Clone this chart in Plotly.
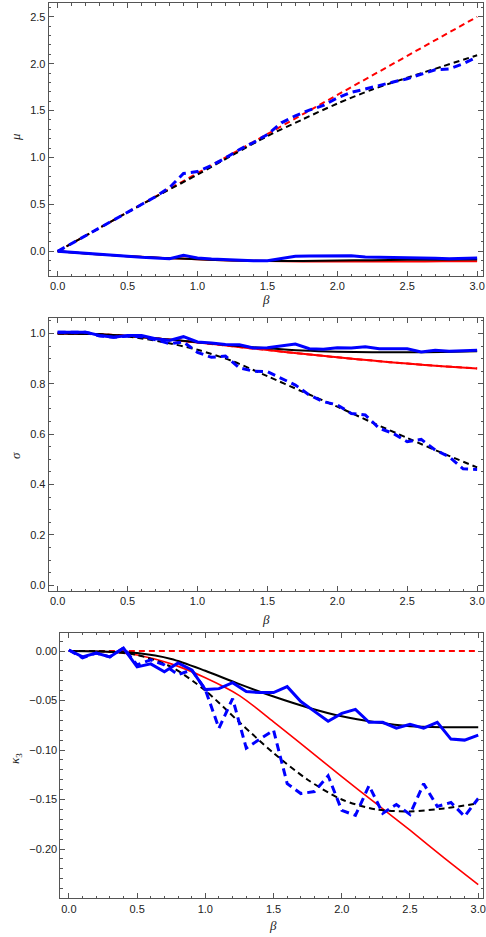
import plotly.graph_objects as go

# ---- smooth (analytic) curves, sampled every 0.25 in beta ----
beta_grid = [0.0, 0.25, 0.5, 0.75, 1.0, 1.25, 1.5, 1.75, 2.0, 2.25, 2.5, 2.75, 3.0]
beta_line = [0.0, 3.0]

# mean
mu_red_dashed = [0.0, 2.5]
mu_black_dashed = [0.0, 0.208, 0.415, 0.62, 0.818, 1.025, 1.228, 1.405, 1.575, 1.725, 1.85, 1.97, 2.09]
mu_red_solid = [0.0, -0.028, -0.052, -0.07, -0.085, -0.097, -0.104, -0.108, -0.109, -0.109, -0.108, -0.107, -0.106]
mu_black_solid = [0.0, -0.028, -0.052, -0.07, -0.085, -0.097, -0.103, -0.102, -0.098, -0.094, -0.091, -0.089, -0.087]

# width
sig_red = [1.0, 0.998, 0.99, 0.978, 0.964, 0.949, 0.934, 0.919, 0.905, 0.892, 0.88, 0.87, 0.861]
sig_black_solid = [1.0, 0.998, 0.99, 0.978, 0.965, 0.952, 0.941, 0.932, 0.927, 0.925, 0.925, 0.926, 0.929]
sig_black_dashed = [1.0, 0.998, 0.988, 0.966, 0.935, 0.89, 0.83, 0.769, 0.709, 0.646, 0.585, 0.525, 0.468]

# third cumulant
kappa_red_dashed = [0.0, 0.0]
kappa_red_solid = [0.0, -0.0005, -0.004, -0.013, -0.027, -0.045, -0.0715, -0.099, -0.127, -0.154, -0.181, -0.209, -0.236]
kappa_black_solid = [0.0, -0.0005, -0.002, -0.008, -0.02, -0.0335, -0.046, -0.057, -0.066, -0.072, -0.076, -0.077, -0.077]
kappa_black_dashed = [0.0, -0.0005, -0.004, -0.016, -0.04, -0.072, -0.103, -0.13, -0.15, -0.16, -0.162, -0.159, -0.154]

# ---- sampled (simulation) points, every 0.1 in beta ----
beta_mc = [0.0, 0.1, 0.2, 0.3, 0.4, 0.5, 0.6, 0.7, 0.8, 0.9, 1.0,
           1.1, 1.2, 1.3, 1.4, 1.5, 1.6, 1.7, 1.8, 1.9, 2.0,
           2.1, 2.2, 2.3, 2.4, 2.5, 2.6, 2.7, 2.8, 2.9, 3.0]

mu_blue_solid = [0.0, -0.011, -0.018, -0.036, -0.046, -0.057, -0.064, -0.071, -0.078, -0.043, -0.071,
                 -0.082, -0.089, -0.096, -0.1, -0.1, -0.078, -0.053, -0.05, -0.05, -0.053,
                 -0.046, -0.06, -0.064, -0.071, -0.075, -0.075, -0.075, -0.078, -0.075, -0.071]
mu_blue_dashed = [0.0, 0.083, 0.167, 0.25, 0.333, 0.415, 0.5, 0.583, 0.68, 0.83, 0.85,
                  0.915, 0.995, 1.085, 1.16, 1.245, 1.37, 1.445, 1.505, 1.555, 1.635,
                  1.695, 1.73, 1.77, 1.805, 1.84, 1.89, 1.935, 1.945, 2.0, 2.07]

sig_blue_solid = [1.005, 1.004, 1.005, 0.992, 0.985, 0.992, 0.992, 0.979, 0.972, 0.987, 0.966,
                  0.962, 0.956, 0.955, 0.942, 0.943, 0.95, 0.958, 0.939, 0.937, 0.943,
                  0.942, 0.947, 0.939, 0.939, 0.939, 0.926, 0.933, 0.929, 0.931, 0.933]
sig_blue_dashed = [1.005, 1.004, 1.005, 0.99, 0.985, 0.989, 0.987, 0.975, 0.959, 0.966, 0.925,
                   0.905, 0.91, 0.863, 0.85, 0.848, 0.821, 0.795, 0.755, 0.729, 0.716,
                   0.682, 0.676, 0.623, 0.603, 0.57, 0.579, 0.537, 0.51, 0.462, 0.46]

kappa_blue_solid = [0.001, -0.006, -0.002, -0.006, 0.003, -0.016, -0.013, -0.021, -0.012, -0.019, -0.039,
                    -0.038, -0.032, -0.041, -0.042, -0.042, -0.036, -0.051, -0.061, -0.071, -0.063,
                    -0.059, -0.072, -0.072, -0.078, -0.074, -0.078, -0.072, -0.089, -0.09, -0.085]
kappa_blue_dashed = [0.001, -0.007, -0.002, -0.006, 0.003, -0.014, -0.009, -0.014, -0.024, -0.019, -0.039,
                     -0.078, -0.048, -0.098, -0.089, -0.08, -0.134, -0.144, -0.142, -0.126, -0.161,
                     -0.166, -0.136, -0.164, -0.155, -0.165, -0.134, -0.157, -0.153, -0.167, -0.149]

RED = "#ff0000"
BLUE = "#0000ff"
BLACK = "#000000"
DASH_THIN = "6px,4px"
DASH_BLUE = "8px,5px"

fig = go.Figure()


def add(x, y, color, width, dash, ax, smooth=False):
    fig.add_trace(go.Scatter(
        x=x, y=y, mode="lines",
        line=dict(color=color, width=width, dash=dash,
                  shape="spline" if smooth else "linear", smoothing=0.8),
        xaxis="x" + ax, yaxis="y" + ax, showlegend=False, hoverinfo="skip"))


# panel 1: mean
add(beta_line, mu_red_dashed, RED, 2, DASH_THIN, "")
add(beta_grid, mu_red_solid, RED, 2, "solid", "", True)
add(beta_grid, mu_black_solid, BLACK, 2, "solid", "", True)
add(beta_grid, mu_black_dashed, BLACK, 2, DASH_THIN, "", True)
add(beta_mc, mu_blue_solid, BLUE, 3, "solid", "")
add(beta_mc, mu_blue_dashed, BLUE, 3, DASH_BLUE, "")

# panel 2: width
add(beta_grid, sig_red, RED, 2, DASH_THIN, "2", True)
add(beta_grid, sig_red, RED, 2, "solid", "2", True)
add(beta_grid, sig_black_solid, BLACK, 2, "solid", "2", True)
add(beta_grid, sig_black_dashed, BLACK, 2, DASH_THIN, "2", True)
add(beta_mc, sig_blue_solid, BLUE, 3, "solid", "2")
add(beta_mc, sig_blue_dashed, BLUE, 3, DASH_BLUE, "2")

# panel 3: third cumulant
add(beta_line, kappa_red_dashed, RED, 2, DASH_THIN, "3")
add(beta_grid, kappa_red_solid, RED, 1.6, "solid", "3", True)
add(beta_grid, kappa_black_solid, BLACK, 2, "solid", "3", True)
add(beta_grid, kappa_black_dashed, BLACK, 2, DASH_THIN, "3", True)
add(beta_mc, kappa_blue_solid, BLUE, 3, "solid", "3")
add(beta_mc, kappa_blue_dashed, BLUE, 3, DASH_BLUE, "3")

W, H = 486, 937
TICK_FONT = dict(family="Liberation Sans, Arial, sans-serif", size=11, color="#222")
FRAME = "#555555"


def frame_axis(rng, dtick, minor_dtick, fmt, domain, anchor):
    return dict(range=rng, domain=domain, anchor=anchor, autorange=False,
                dtick=dtick, tick0=0, tickformat=fmt,
                ticks="inside", ticklen=5, tickwidth=1, tickcolor=FRAME,
                minor=dict(ticks="inside", dtick=minor_dtick, tick0=0, ticklen=2.5,
                           tickcolor=FRAME, tickwidth=1),
                showline=True, linecolor=FRAME, linewidth=1, mirror="allticks",
                showgrid=False, zeroline=False, tickfont=TICK_FONT,
                ticklabeloverflow="allow")


def ydom(top_px, bottom_px):
    return [1 - bottom_px / H, 1 - top_px / H]


fig.update_layout(
    width=W, height=H, margin=dict(l=0, r=0, t=0, b=0),
    paper_bgcolor="white", plot_bgcolor="white",
    xaxis=frame_axis([-0.064, 3.042], 0.5, 0.1, ".1f", [49 / W, 1.0], "y"),
    yaxis=frame_axis([-0.263, 2.647], 0.5, 0.1, ".1f", ydom(3, 276), "x"),
    xaxis2=frame_axis([-0.064, 3.042], 0.5, 0.1, ".1f", [49 / W, 1.0], "y2"),
    yaxis2=frame_axis([-0.023, 1.06], 0.2, 0.05, ".1f", ydom(318.3, 591), "x2"),
    xaxis3=frame_axis([-0.0626, 3.035], 0.5, 0.1, ".1f", [60.7 / W, 1.0], "y3"),
    yaxis3=frame_axis([-0.2498, 0.0185], 0.05, 0.01, ".2f", ydom(632.7, 898.3), "x3"),
)

LABEL_FONT = dict(family="Liberation Serif, Times New Roman, serif", size=13, color="#222")


def label(text, x_px, y_px, angle=0):
    fig.add_annotation(text=text, x=x_px / W, y=1 - y_px / H, xref="paper", yref="paper",
                       showarrow=False, textangle=angle, font=LABEL_FONT,
                       xanchor="center", yanchor="middle")


label("<i>β</i>", 268, 299)
label("<i>β</i>", 268, 619)
label("<i>β</i>", 275, 925)
label("<i>μ</i>", 15, 137, -90)
label("<i>σ</i>", 15, 455, -90)
label("<i>κ</i><sub>3</sub>", 15, 758, -90)

fig.write_html("out.html")
